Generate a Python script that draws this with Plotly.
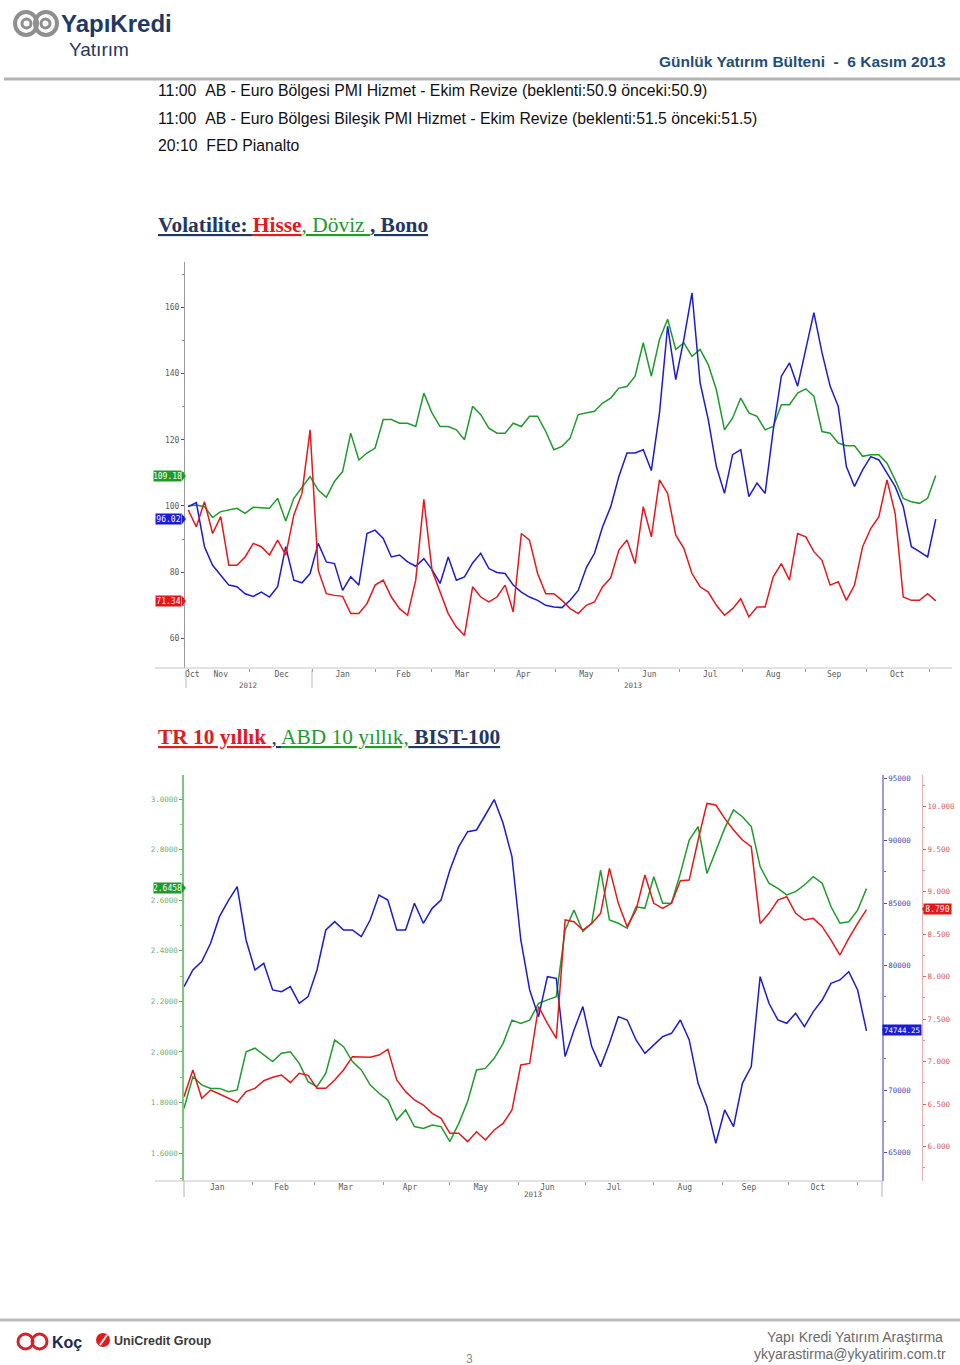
import pandas as pd
import plotly.graph_objects as go

# ---------------- data ----------------
# Chart 1: volatility index (base 100), sampled every 4 days from 2012-11-01
VOL_START = "2012-11-01"
VOL_STEP = "4D"
vol_hisse = [98.8, 93.7, 101.3, 91.7, 96.8, 82.1, 82.1, 84.6, 88.7, 87.7,
             85.2, 89.7, 85.2, 97.3, 103.8, 123.0, 80.6, 73.5, 73.0, 72.7,
             67.5, 67.5, 70.5, 76.1, 77.6, 72.5, 69.0, 67.0, 77.6, 102.0,
             80.6, 74.0, 67.5, 63.4, 60.9, 75.6, 72.5, 71.0, 72.5, 76.1,
             68.0, 91.7, 89.7, 79.6, 73.5, 73.5, 71.5, 69.0, 67.5, 70.0,
             71.0, 75.6, 78.3, 86.7, 89.7, 82.6, 99.8, 90.7, 107.9, 103.8,
             91.2, 87.2, 79.6, 75.6, 74.0, 70.0, 67.0, 69.0, 72.0, 66.5,
             69.5, 69.5, 78.6, 82.6, 77.6, 91.7, 90.7, 86.2, 83.6, 76.1,
             77.1, 71.5, 76.1, 87.7, 93.2, 96.8, 107.9, 97.8, 72.5, 71.5,
             71.5, 73.5, 71.34]
vol_doviz = [100.0, 100.3, 99.8, 96.5, 98.3, 98.8, 99.3, 97.8, 99.6, 99.5,
             99.3, 102.3, 95.5, 102.3, 105.7, 108.9, 104.8, 102.6, 107.4, 110.4,
             122.0, 113.9, 116.0, 117.5, 126.1, 126.1, 125.0, 125.0, 124.0, 134.1,
             128.1, 124.0, 124.0, 123.0, 120.0, 130.1, 127.6, 123.5, 122.0, 122.0,
             125.0, 124.0, 127.1, 127.1, 122.5, 117.0, 118.0, 120.5, 127.6, 128.1,
             128.6, 131.1, 132.6, 135.6, 136.1, 139.2, 149.3, 139.2, 150.3, 156.4,
             147.3, 149.3, 145.2, 147.3, 142.7, 135.1, 123.0, 126.6, 132.6, 128.1,
             127.1, 123.0, 124.0, 130.6, 130.6, 134.1, 135.4, 133.2, 122.5, 122.0,
             119.0, 118.2, 118.2, 115.0, 115.5, 115.5, 112.9, 107.9, 102.3, 101.3,
             100.8, 102.3, 109.18]
vol_bono = [99.8, 101.0, 87.7, 82.1, 79.1, 76.1, 75.6, 73.5, 72.7, 74.0,
            72.5, 75.6, 87.7, 77.6, 76.8, 79.6, 88.7, 83.1, 82.6, 74.5,
            78.6, 76.1, 91.7, 92.7, 90.2, 84.6, 85.2, 83.1, 81.8, 84.1,
            80.8, 76.6, 84.6, 77.6, 78.6, 82.8, 85.7, 81.1, 79.9, 79.6,
            76.1, 74.0, 72.5, 71.5, 70.0, 69.5, 69.3, 71.5, 74.5, 81.4,
            85.7, 93.7, 99.8, 108.9, 116.0, 116.0, 117.0, 110.7, 128.1, 154.3,
            138.2, 150.3, 164.4, 137.2, 126.1, 111.9, 103.8, 115.5, 117.0, 102.8,
            106.9, 103.8, 123.0, 139.2, 143.2, 136.2, 147.3, 158.4, 146.3, 136.2,
            130.1, 111.9, 105.9, 110.9, 114.9, 113.9, 109.9, 105.9, 99.8, 87.7,
            86.2, 84.6, 96.02]
vol_last_labels = ["71.34", "109.18", "96.02"]

vol_tick_dates = ["2012-11-03", "2012-11-17", "2012-12-17", "2013-01-16", "2013-02-15",
                  "2013-03-16", "2013-04-15", "2013-05-16", "2013-06-16", "2013-07-16",
                  "2013-08-16", "2013-09-15", "2013-10-16"]
vol_tick_text = ["Oct", "Nov", "Dec", "Jan", "Feb", "Mar", "Apr", "May", "Jun", "Jul",
                 "Aug", "Sep", "Oct"]
vol_month_starts = ["2012-11-01", "2012-12-01", "2013-01-01", "2013-02-01", "2013-03-01",
                    "2013-04-01", "2013-05-01", "2013-06-01", "2013-07-01", "2013-08-01",
                    "2013-09-01", "2013-10-01", "2013-11-01"]
vol_y_ticks = [60, 80, 100, 120, 140, 160]

# Chart 2: TR 10y, US 10y yields and BIST-100, sampled every 4 days from 2013-01-01
RATE_START = "2013-01-01"
RATE_STEP = "4D"
tr10 = [6.588, 6.902, 6.569, 6.666, 6.619, 6.569, 6.521, 6.647, 6.686, 6.776,
        6.816, 6.843, 6.753, 6.863, 6.839, 6.686, 6.686, 6.784, 6.902, 7.059,
        7.059, 7.051, 7.078, 7.145, 6.784, 6.647, 6.549, 6.490, 6.392, 6.333,
        6.157, 6.157, 6.059, 6.176, 6.078, 6.196, 6.274, 6.431, 6.961, 6.980,
        7.647, 7.451, 7.274, 8.667, 8.647, 8.549, 8.627, 8.745, 9.274, 8.863,
        8.588, 8.784, 9.196, 8.863, 8.804, 8.863, 9.129, 9.137, 9.608, 10.039,
        10.020, 9.863, 9.725, 9.608, 9.529, 8.627, 8.745, 8.902, 8.941, 8.745,
        8.667, 8.686, 8.588, 8.431, 8.255, 8.451, 8.627, 8.790]
us10 = [1.777, 1.902, 1.870, 1.856, 1.856, 1.843, 1.850, 2.001, 2.015, 1.988,
        1.962, 1.995, 2.001, 1.955, 1.883, 1.863, 1.916, 2.047, 2.021, 1.962,
        1.929, 1.870, 1.837, 1.810, 1.731, 1.771, 1.705, 1.698, 1.711, 1.705,
        1.646, 1.718, 1.804, 1.929, 1.935, 1.975, 2.034, 2.126, 2.113, 2.126,
        2.192, 2.206, 2.219, 2.482, 2.561, 2.476, 2.509, 2.719, 2.522, 2.509,
        2.489, 2.574, 2.568, 2.693, 2.588, 2.588, 2.706, 2.838, 2.891, 2.706,
        2.798, 2.884, 2.957, 2.930, 2.891, 2.733, 2.667, 2.647, 2.621, 2.634,
        2.660, 2.693, 2.667, 2.574, 2.509, 2.515, 2.561, 2.6458]
bist100 = [78297, 79633, 80301, 81771, 83908, 85191, 86313, 82038, 79633, 80168,
           78030, 77896, 78297, 76961, 77496, 79633, 82840, 83508, 82840, 82840,
           82305, 83641, 85645, 85244, 82840, 82840, 84977, 83374, 84576, 85244,
           87649, 89520, 90722, 90856, 92058, 93300, 91390, 88718, 82038, 78030,
           75892, 79098, 78965, 72686, 74824, 76694, 73488, 71884, 73754, 75892,
           75625, 74022, 72953, 73621, 74289, 74556, 75625, 74022, 70548, 68678,
           65739, 68411, 67075, 70548, 71884, 79098, 76961, 75625, 75358, 76160,
           75091, 76293, 77228, 78564, 78832, 79500, 78030, 74744.25]
rate_last_labels = ["8.790", "2.6458", "74744.25"]

rate_tick_dates = ["2013-01-16", "2013-02-14", "2013-03-15", "2013-04-13", "2013-05-15",
                   "2013-06-14", "2013-07-14", "2013-08-15", "2013-09-13", "2013-10-14"]
rate_tick_text = ["Jan", "Feb", "Mar", "Apr", "May", "Jun", "Jul", "Aug", "Sep", "Oct"]
rate_month_starts = ["2013-02-01", "2013-03-01", "2013-04-01", "2013-05-01", "2013-06-01",
                     "2013-07-01", "2013-08-01", "2013-09-01", "2013-10-01", "2013-11-01"]
us10_ticks = [1.6, 1.8, 2.0, 2.2, 2.4, 2.6, 2.8, 3.0]
bist_ticks = [65000, 70000, 75000, 80000, 85000, 90000, 95000]
bist_tick_text = ["65000", "70000", "", "80000", "85000", "90000", "95000"]
tr10_ticks = [6.0, 6.5, 7.0, 7.5, 8.0, 8.5, 9.0, 9.5, 10.0]

agenda = ["11:00\u00a0\u00a0AB - Euro Bölgesi PMI Hizmet - Ekim Revize (beklenti:50.9 önceki:50.9)",
          "11:00\u00a0\u00a0AB - Euro Bölgesi Bileşik PMI Hizmet - Ekim Revize (beklenti:51.5 önceki:51.5)",
          "20:10\u00a0\u00a0FED Pianalto"]

# ---------------- helpers ----------------
W, H = 960, 1365
def px(x):
    return x / W
def py(y):
    return 1 - y / H

RED = "#e3191c"
GREEN = "#1f9b2e"
BLUE = "#1c1ccc"
NAVY = "#1f3864"
NARROW = "Liberation Sans Narrow, Arial Narrow, Liberation Sans, sans-serif"
MONO = "DejaVu Sans Mono, monospace"

fig = go.Figure()

vol_dates = pd.date_range(VOL_START, periods=len(vol_doviz), freq=VOL_STEP)
rate_dates = pd.date_range(RATE_START, periods=len(us10), freq=RATE_STEP)

lw = 1.5
fig.add_trace(go.Scatter(x=vol_dates, y=vol_doviz, mode="lines", line=dict(color=GREEN, width=lw), xaxis="x", yaxis="y"))
fig.add_trace(go.Scatter(x=vol_dates, y=vol_bono, mode="lines", line=dict(color=BLUE, width=lw), xaxis="x", yaxis="y"))
fig.add_trace(go.Scatter(x=vol_dates, y=vol_hisse, mode="lines", line=dict(color=RED, width=lw), xaxis="x", yaxis="y"))

fig.add_trace(go.Scatter(x=rate_dates, y=bist100, mode="lines", line=dict(color=BLUE, width=lw), xaxis="x2", yaxis="y3"))
fig.add_trace(go.Scatter(x=rate_dates, y=tr10, mode="lines", line=dict(color=RED, width=lw), xaxis="x2", yaxis="y4"))
fig.add_trace(go.Scatter(x=rate_dates, y=us10, mode="lines", line=dict(color=GREEN, width=lw), xaxis="x2", yaxis="y2"))

tickfont = dict(family=MONO, size=8, color="#5a5a5a")

layout = dict(
    width=W, height=H, autosize=False,
    margin=dict(l=0, r=0, t=0, b=0),
    paper_bgcolor="white", plot_bgcolor="white",
    showlegend=False,
    xaxis=dict(domain=[px(185), px(952)], anchor="y", type="date",
               range=["2012-10-30 10:00", "2013-11-12"],
               tickmode="array", tickvals=vol_tick_dates, ticktext=vol_tick_text,
               ticks="", showgrid=False, zeroline=False, showline=False,
               tickfont=tickfont,
               minor=dict(tickmode="array", tickvals=vol_month_starts, ticks="outside",
                          ticklen=3, tickcolor="#999", showgrid=False)),
    yaxis=dict(domain=[py(668), py(262)], anchor="x", range=[51.06, 173.7],
               tickmode="array", tickvals=vol_y_ticks, ticks="outside", ticklen=3,
               tickcolor="#555", showline=True, linecolor="#9a9a9a", linewidth=1,
               showgrid=False, zeroline=False, tickfont=tickfont,
               minor=dict(dtick=10, ticks="outside", ticklen=2, tickcolor="#888")),
    xaxis2=dict(domain=[px(184), px(882)], anchor="y2", type="date",
                range=["2013-01-01", "2013-11-12"],
                tickmode="array", tickvals=rate_tick_dates, ticktext=rate_tick_text,
                ticks="", showgrid=False, zeroline=False, showline=False,
                tickfont=tickfont,
                minor=dict(tickmode="array", tickvals=rate_month_starts, ticks="outside",
                           ticklen=3, tickcolor="#999", showgrid=False)),
    yaxis2=dict(domain=[py(1181), py(775)], anchor="x2", side="left", range=[1.490, 3.095],
                tickmode="array", tickvals=us10_ticks, tickformat=".4f",
                ticks="outside", ticklen=3, tickcolor="#5aa85a",
                showline=True, linecolor="#7cc77c", linewidth=1.5,
                showgrid=False, zeroline=False,
                tickfont=dict(family=MONO, size=7.5, color="#6db36d"),
                minor=dict(dtick=0.1, ticks="outside", ticklen=2, tickcolor="#7cc77c")),
    yaxis3=dict(overlaying="y2", anchor="x2", side="right", range=[62715, 95265],
                tickmode="array", tickvals=bist_ticks, ticktext=bist_tick_text,
                ticks="outside", ticklen=3, tickcolor="#4a4ab0",
                showline=True, linecolor="#9c9cdc", linewidth=1.5,
                showgrid=False, zeroline=False,
                tickfont=dict(family=MONO, size=7.5, color="#4b4bab"),
                minor=dict(dtick=2500, ticks="outside", ticklen=2, tickcolor="#6a6ac0")),
    yaxis4=dict(overlaying="y2", anchor="free", position=px(922), side="right",
                range=[5.596, 10.373],
                tickmode="array", tickvals=tr10_ticks, tickformat=".3f",
                ticks="outside", ticklen=3, tickcolor="#d86060",
                showline=True, linecolor="#eab0b0", linewidth=1,
                showgrid=False, zeroline=False,
                tickfont=dict(family=MONO, size=7.5, color="#d35c5c"),
                minor=dict(dtick=0.25, ticks="outside", ticklen=2, tickcolor="#e08a8a")),
)

shapes = []
annotations = []

def line(x0, y0, x1, y1, color, width=1):
    shapes.append(dict(type="line", xref="paper", yref="paper", x0=px(x0), y0=py(y0),
                       x1=px(x1), y1=py(y1), line=dict(color=color, width=width)))

def text(x, y, s, size, color, family="Liberation Sans, Arial, sans-serif", xanchor="left",
         yanchor="middle"):
    annotations.append(dict(xref="paper", yref="paper", x=px(x), y=py(y), text=s,
                            showarrow=False, xanchor=xanchor, yanchor=yanchor,
                            font=dict(size=size, color=color, family=family)))

# header
shapes.append(dict(type="circle", xref="paper", yref="paper", x0=px(15), x1=px(37),
                   y0=py(35), y1=py(12), line=dict(color="#8f8f8f", width=4)))
shapes.append(dict(type="circle", xref="paper", yref="paper", x0=px(35), x1=px(57),
                   y0=py(35), y1=py(12), line=dict(color="#8f8f8f", width=4)))
shapes.append(dict(type="circle", xref="paper", yref="paper", x0=px(22), x1=px(31),
                   y0=py(28), y1=py(19), line=dict(color="#8f8f8f", width=3)))
shapes.append(dict(type="circle", xref="paper", yref="paper", x0=px(41), x1=px(50),
                   y0=py(28), y1=py(19), line=dict(color="#8f8f8f", width=3)))
text(59, 23, "<b>YapıKredi</b>", 24, NAVY, NARROW)
text(67, 50, "Yatırım", 19, NAVY, NARROW)
text(948, 62, "<b>Günlük Yatırım Bülteni\u00a0\u00a0-\u00a0\u00a06 Kasım 2013</b>", 15.5, "#1f4e79",
     NARROW, xanchor="right")
line(4, 79, 960, 79, "#b4b4b4", 3)

for i, s in enumerate(agenda):
    text(156, 91 + i * 27.5, s, 15.8, "#111111")

# titles
title1 = ("<b><u>Volatilite: </u></b>"
          "<span style='color:%s'><b><u>Hisse</u></b></span>"
          "<span style='color:%s'><u>, Döviz </u></span>"
          "<b><u>, Bono</u></b>") % (RED, GREEN)
text(156, 225, title1, 21.4, NAVY, "Liberation Serif, Times New Roman, serif")
title2 = ("<span style='color:%s'><b><u>TR 10 yıllık </u></b></span>"
          "<u>, </u>"
          "<span style='color:%s'><u>ABD 10 yıllık,</u></span>"
          "<b><u> BIST-100</u></b>") % (RED, GREEN)
text(156, 737, title2, 21.4, NAVY, "Liberation Serif, Times New Roman, serif")

# chart 1 decorations
line(155, 668, 952, 668, "#c4c4c4", 1)
line(186, 670, 186, 688, "#bbbbbb", 1)
line(312, 670, 312, 688, "#bbbbbb", 1)
text(248, 685, "2012", 7.5, "#5a5a5a", MONO, xanchor="center")
text(633, 685, "2013", 7.5, "#5a5a5a", MONO, xanchor="center")

def badge(x_right, yc, s, color, width, size=8):
    annotations.append(dict(xref="paper", yref="paper", x=px(x_right), y=py(yc), text=s,
                            showarrow=False, xanchor="right", yanchor="middle",
                            font=dict(size=size, color="white", family=MONO),
                            bgcolor=color, width=width, height=10, borderpad=0))

def tri(x_tip, yc, color, point="right"):
    dx = 4 if point == "right" else -4
    xb = x_tip - dx
    shapes.append(dict(type="path", xref="paper", yref="paper",
                       path="M %f %f L %f %f L %f %f Z" % (px(xb), py(yc - 5), px(x_tip), py(yc),
                                                          px(xb), py(yc + 5)),
                       fillcolor=color, line=dict(width=0)))

badge(182, 476, vol_last_labels[1], "#1e9a2a", 27)
tri(186, 476, "#1e9a2a")
badge(182, 519, vol_last_labels[2], "#1a1ad8", 25)
tri(186, 519, "#1a1ad8")
badge(182, 601, vol_last_labels[0], "#e01818", 25)
tri(186, 601, "#e01818")

# chart 2 decorations
line(155, 1181, 882, 1181, "#c4c4c4", 1)
line(184, 1181, 184, 1197, "#b0b0b0", 1)
line(882, 1181, 882, 1197, "#b0b0c8", 1)
text(533, 1194, "2013", 7.5, "#5a5a5a", MONO, xanchor="center")

badge(182, 888, rate_last_labels[1], "#1e9a2a", 27)
tri(186, 888, "#1e9a2a")
badge(922, 1030, rate_last_labels[2], "#1a1ad8", 38, size=7.5)
tri(882, 1030, "#1a1ad8", point="left")
badge(952, 909, rate_last_labels[0], "#e01818", 27)
tri(922, 909, "#e01818", point="left")

# footer
line(0, 1320, 960, 1320, "#bdbdbd", 3)
shapes.append(dict(type="circle", xref="paper", yref="paper", x0=px(18), x1=px(33),
                   y0=py(1349), y1=py(1334), line=dict(color="#d2232a", width=3)))
shapes.append(dict(type="circle", xref="paper", yref="paper", x0=px(32), x1=px(47),
                   y0=py(1349), y1=py(1334), line=dict(color="#d2232a", width=3)))
text(50, 1342, "<b>Koç</b>", 16, "#1a2a50", NARROW)
shapes.append(dict(type="circle", xref="paper", yref="paper", x0=px(96), x1=px(110),
                   y0=py(1347), y1=py(1333), fillcolor="#e3191c", line=dict(width=0)))
line(100, 1345, 107, 1335, "white", 2)
text(112, 1341, "<b>UniCredit Group</b>", 12.5, "#3a3a3a", NARROW)
text(945, 1337, "Yapı Kredi Yatırım Araştırma", 14, "#6a6a6a", NARROW, xanchor="right")
text(948, 1354, "ykyarastirma@ykyatirim.com.tr", 14, "#6a6a6a", NARROW, xanchor="right")
text(469, 1359, "3", 12, "#8a8a8a", NARROW, xanchor="center")

layout["shapes"] = shapes
layout["annotations"] = annotations
fig.update_layout(**layout)

fig.write_html("out.html", config={"displayModeBar": False},
               post_script="document.body.style.margin='0px';")
